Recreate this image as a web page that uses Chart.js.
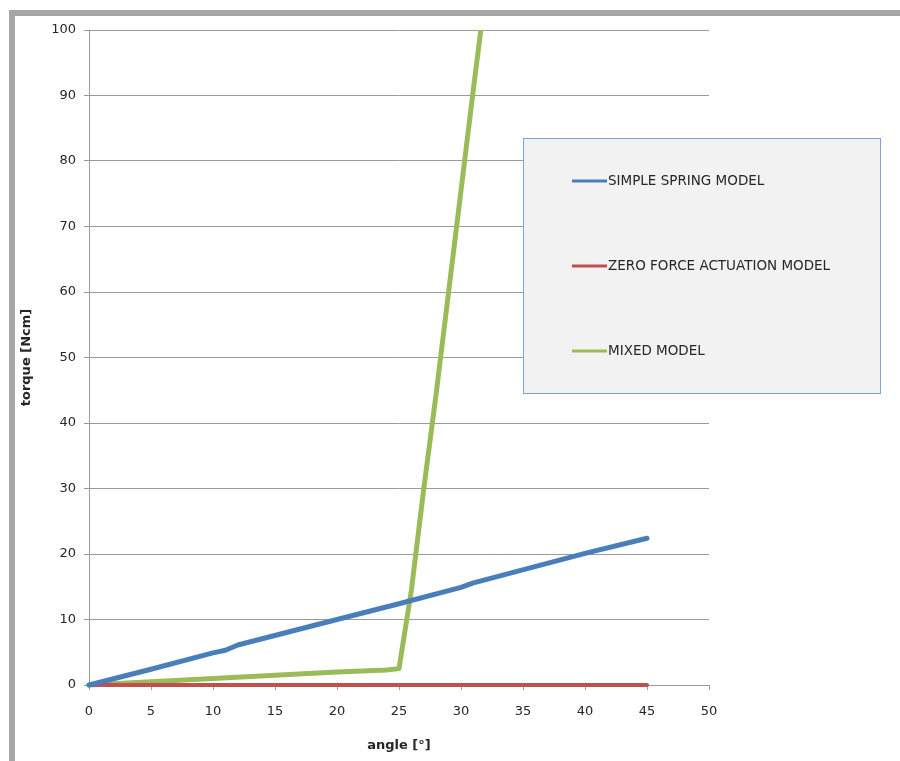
<!DOCTYPE html>
<html>
<head>
<meta charset="utf-8">
<script src="https://cdn.jsdelivr.net/npm/chart.js@4"></script>
<style>
  html, body { margin: 0; padding: 0; background: #ffffff; }
  #wrap { position: relative; width: 900px; height: 761px; overflow: hidden; }
  #frameL { position: absolute; left: 9px; top: 10px; width: 6px; height: 751px; background: #a6a6a6; }
  #frameT { position: absolute; left: 9px; top: 10px; width: 891px; height: 6px; background: #a6a6a6; }
  #c { position: absolute; left: 0; top: 0; }
</style>
</head>
<body>
<div id="wrap">
  <div id="frameL"></div>
  <div id="frameT"></div>
  <canvas id="c" width="900" height="761"></canvas>
</div>
<script>
// ---- data ----
const seriesNames = ["SIMPLE SPRING MODEL", "ZERO FORCE ACTUATION MODEL", "MIXED MODEL"];

const springAngle  = [0, 5, 10, 11, 12, 20, 25, 30, 31, 32, 40, 45];
const springTorque = [0, 2.4, 4.9, 5.3, 6.1, 10, 12.4, 14.9, 15.6, 16.1, 20.1, 22.4];

const zeroAngle  = [0, 45];
const zeroTorque = [0, 0];

const mixedAngle  = [0, 5, 10, 15, 20, 24, 25, 26, 27, 28, 29, 30, 31, 32];
const mixedTorque = [0, 0.5, 1.0, 1.5, 2.0, 2.3, 2.5, 14.5, 30, 44.5, 60, 75.5, 91, 106];

const xTicksMin = 0, xTicksMax = 50, xStep = 5;
const yTicksMin = 0, yTicksMax = 100, yStep = 10;

const xTitle = "angle [°]";
const yTitle = "torque [Ncm]";

const colors = ["#4a7ebb", "#c0504d", "#9bbb59"];

function pts(xs, ys) { return xs.map((x, i) => ({ x: x, y: ys[i] })); }

const FONT = "'DejaVu Sans', sans-serif";

const legendPlugin = {
  id: 'boxLegend',
  afterDraw(chart) {
    const ctx = chart.ctx;
    ctx.save();
    const bx = 523.5, by = 138.5, bw = 357, bh = 255;
    ctx.fillStyle = '#f2f2f2';
    ctx.fillRect(bx, by, bw, bh);
    ctx.strokeStyle = '#7fa2d6';
    ctx.lineWidth = 1;
    ctx.strokeRect(bx, by, bw, bh);
    const rows = [181, 266, 351];
    chart.data.datasets.forEach((ds, i) => {
      const y = rows[i];
      ctx.strokeStyle = ds.borderColor;
      ctx.lineWidth = 3;
      ctx.beginPath();
      ctx.moveTo(572, y);
      ctx.lineTo(607, y);
      ctx.stroke();
      ctx.fillStyle = '#262626';
      ctx.font = "13.5px " + FONT;
      ctx.textBaseline = 'middle';
      ctx.textAlign = 'left';
      ctx.fillText(ds.label, 608, y);
    });
    ctx.restore();
  }
};

new Chart(document.getElementById('c'), {
  type: 'line',
  data: {
    datasets: [
      { label: seriesNames[0], data: pts(springAngle, springTorque), borderColor: colors[0], borderWidth: 5, clip: false },
      { label: seriesNames[1], data: pts(zeroAngle, zeroTorque), borderColor: colors[1], borderWidth: 4, clip: false },
      { label: seriesNames[2], data: pts(mixedAngle, mixedTorque), borderColor: colors[2], borderWidth: 5,
        clip: { left: false, top: 0, right: false, bottom: false } }
    ]
  },
  options: {
    responsive: false,
    animation: false,
    devicePixelRatio: 1,
    layout: { padding: { left: 0, top: 30, right: 191, bottom: 0 } },
    elements: {
      line: { tension: 0, borderCapStyle: 'round', borderJoinStyle: 'round', fill: false },
      point: { radius: 0, hoverRadius: 0 }
    },
    plugins: { legend: { display: false }, tooltip: { enabled: false } },
    scales: {
      x: {
        type: 'linear', min: xTicksMin, max: xTicksMax,
        ticks: { stepSize: xStep, color: '#262626', font: { family: FONT, size: 13 }, padding: 14, maxRotation: 0 },
        grid: { drawOnChartArea: false, drawTicks: true, tickLength: 5, color: '#9a9a9a' },
        border: { display: true, color: '#9a9a9a', width: 1 },
        title: { display: true, text: xTitle, color: '#262626', font: { family: FONT, size: 13, weight: 'bold' }, padding: { top: 0, bottom: 8 } },
        afterFit(scale) { scale.height = 76; }
      },
      y: {
        type: 'linear', min: yTicksMin, max: yTicksMax,
        ticks: { stepSize: yStep, color: '#262626', font: { family: FONT, size: 13 }, padding: 8 },
        grid: { drawOnChartArea: true, drawTicks: true, tickLength: 5, color: '#9a9a9a' },
        border: { display: true, color: '#9a9a9a', width: 1 },
        title: { display: true, text: yTitle, color: '#262626', font: { family: FONT, size: 13, weight: 'bold' }, padding: { top: 19, bottom: 0 } },
        afterFit(scale) { scale.width = 89; }
      }
    }
  },
  plugins: [legendPlugin]
});
</script>
</body>
</html>
